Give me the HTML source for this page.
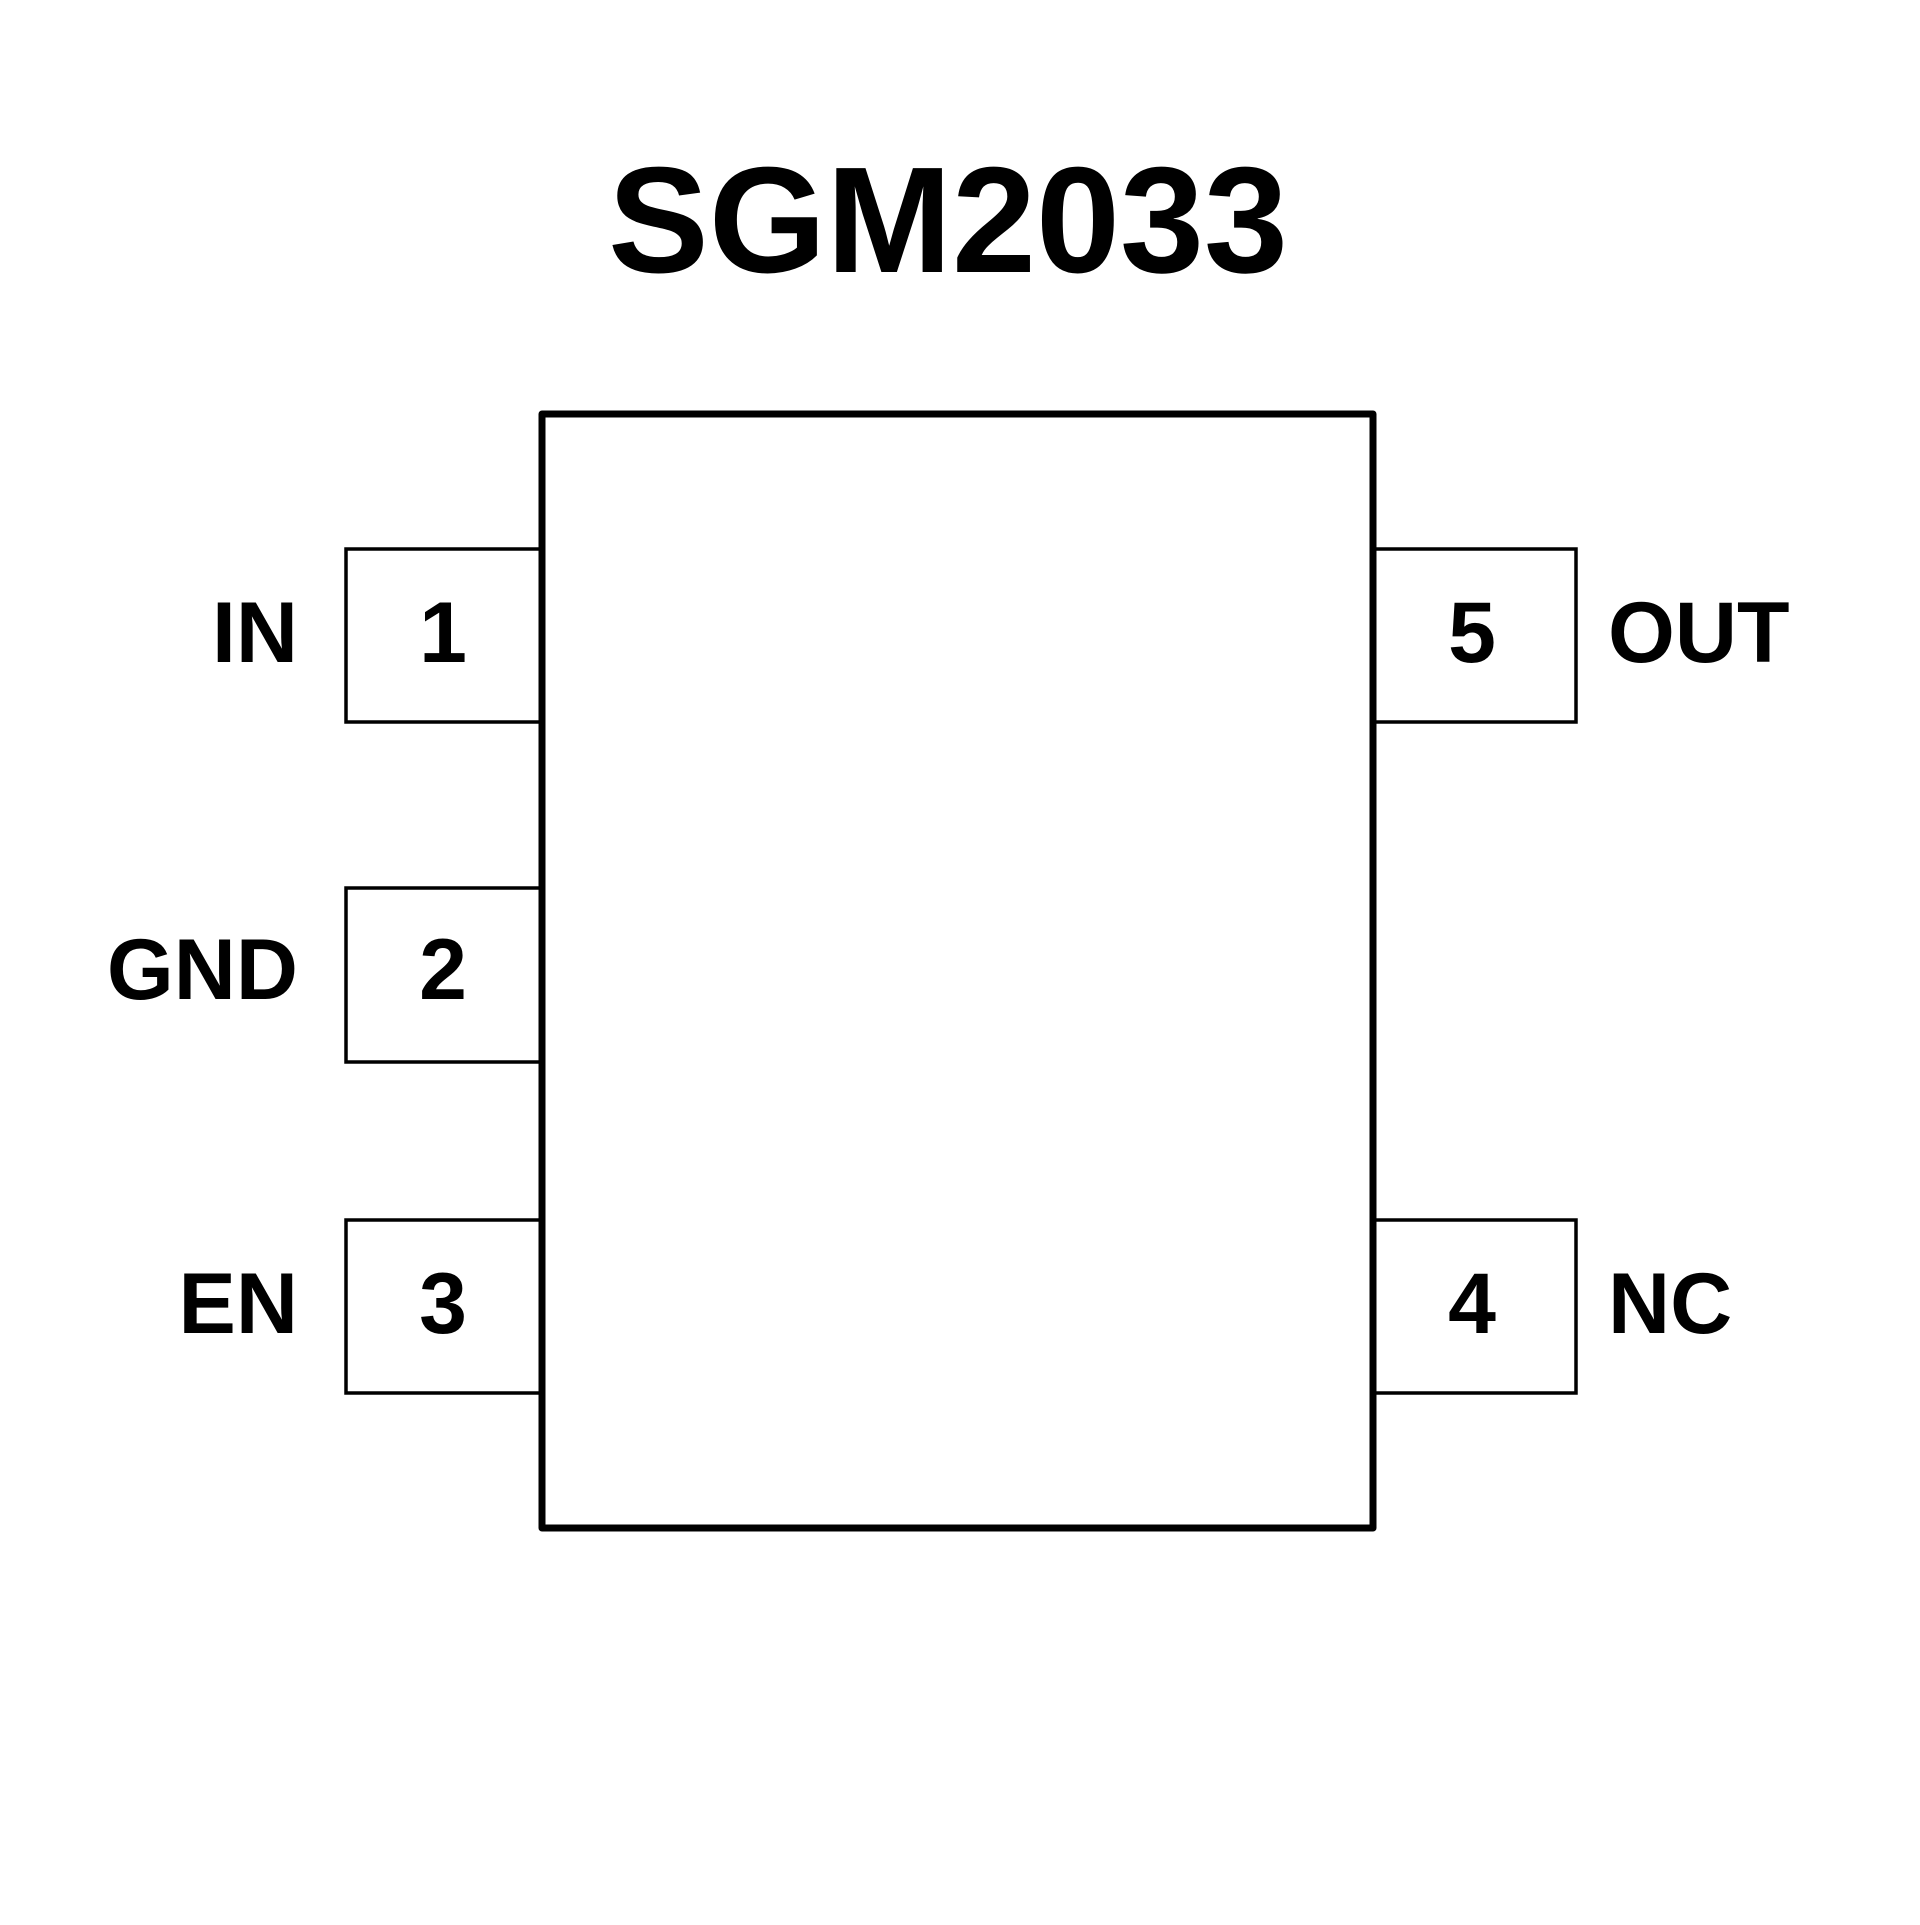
<!DOCTYPE html>
<html><head><style>html,body{margin:0;padding:0;background:#fff}</style></head>
<body>
<svg width="1920" height="1920" viewBox="0 0 1920 1920" xmlns="http://www.w3.org/2000/svg">
<rect width="1920" height="1920" fill="#fff"/>
<text x="948" y="272" text-anchor="middle" font-family="Liberation Sans, sans-serif" font-weight="bold" font-size="151">SGM2033</text>
<g fill="none" stroke="#000" stroke-width="3.5">
<polyline points="542,549 346,549 346,722 542,722"/>
<polyline points="542,888 346,888 346,1062 542,1062"/>
<polyline points="542,1220 346,1220 346,1393 542,1393"/>
<polyline points="1373,549 1576,549 1576,722 1373,722"/>
<polyline points="1373,1220 1576,1220 1576,1393 1373,1393"/>
</g>
<rect x="542" y="414" width="831" height="1114" fill="none" stroke="#000" stroke-width="7" stroke-linejoin="round"/>
<g font-family="Liberation Sans, sans-serif" font-weight="bold" font-size="86">
<text x="443" y="662" text-anchor="middle">1</text>
<text x="443" y="999" text-anchor="middle">2</text>
<text x="443" y="1333" text-anchor="middle">3</text>
<text x="1472" y="662" text-anchor="middle">5</text>
<text x="1472" y="1333" text-anchor="middle">4</text>
<text x="298" y="662" text-anchor="end">IN</text>
<text x="298" y="999" text-anchor="end">GND</text>
<text x="298" y="1333" text-anchor="end">EN</text>
<text x="1608" y="662">OUT</text>
<text x="1608" y="1333">NC</text>
</g>
</svg>
</body></html>
